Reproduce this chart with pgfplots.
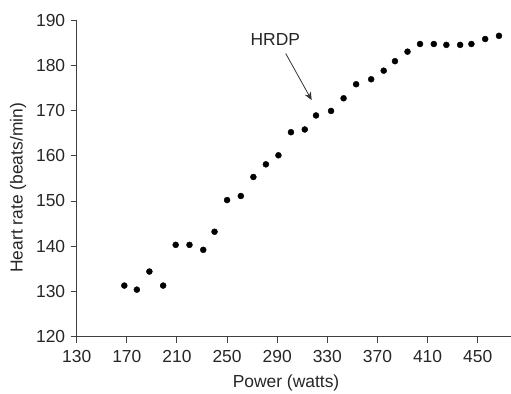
\documentclass[border=0pt]{standalone}
\usepackage{pgfplots}
\pgfplotsset{compat=1.18}
\usetikzlibrary{arrows.meta}
\usepackage{fontspec}
\setmainfont{Liberation Sans}
\begin{document}
\begin{tikzpicture}
\begin{axis}[
  scale only axis,
  width=434.3bp, height=316.7bp,
  xmin=130, xmax=476.6, ymin=120, ymax=190,
  axis lines=left,
  axis line style={-, black!75, line width=0.9pt},
  xtick={130,170,...,450},
  ytick={120,130,...,190},
  tick align=outside,
  tick style={black!75, line width=0.9pt},
  major tick length=6bp,
  /pgf/number format/assume math mode=true,
  /pgf/number format/1000 sep={},
  ticklabel style={font=\fontsize{17.5}{20}\selectfont, text=black!85},
  xticklabel style={yshift=-4bp},
  yticklabel style={xshift=-2bp},
  xlabel={Power (watts)},
  ylabel={Heart rate (beats/min)},
  label style={font=\fontsize{17.5}{20}\selectfont, text=black!85},
  xlabel style={at={(axis description cs:0.482,-0.146)}, anchor=center},
  ylabel style={at={(axis description cs:-0.135,0.47)}, anchor=center},
  clip=false,
]
\addplot[only marks, mark=*, mark size=3bp, black] coordinates {
(168,131.3) (178,130.4) (188,134.4) (199,131.3) (209,140.3) (220,140.3)
(231,139.2) (240,143.2) (250,150.2) (261,151.1) (271,155.3) (281,158.1)
(291,160.1) (301,165.2) (312,165.8) (321,168.9) (333,169.9) (343,172.7)
(353,175.8) (365,176.9) (375,178.8) (384,180.9) (394,183.0) (404,184.7)
(415,184.7) (425,184.5) (436,184.5) (445,184.7) (456,185.8) (467,186.5)
};
\node[font=\fontsize{17.5}{20}\selectfont, text=black!85] at (axis cs:288.5,185.8) {HRDP};
\draw[-{Stealth[length=8bp,width=7bp]}, black!80, line width=0.8pt] (axis cs:296.8,182.6) -- (axis cs:317.5,172.3);
\end{axis}
\pgfresetboundingbox
\path[use as bounding box] (-76.7bp,-57.3bp) rectangle (434.3bp,336.7bp);
\end{tikzpicture}
\end{document}
